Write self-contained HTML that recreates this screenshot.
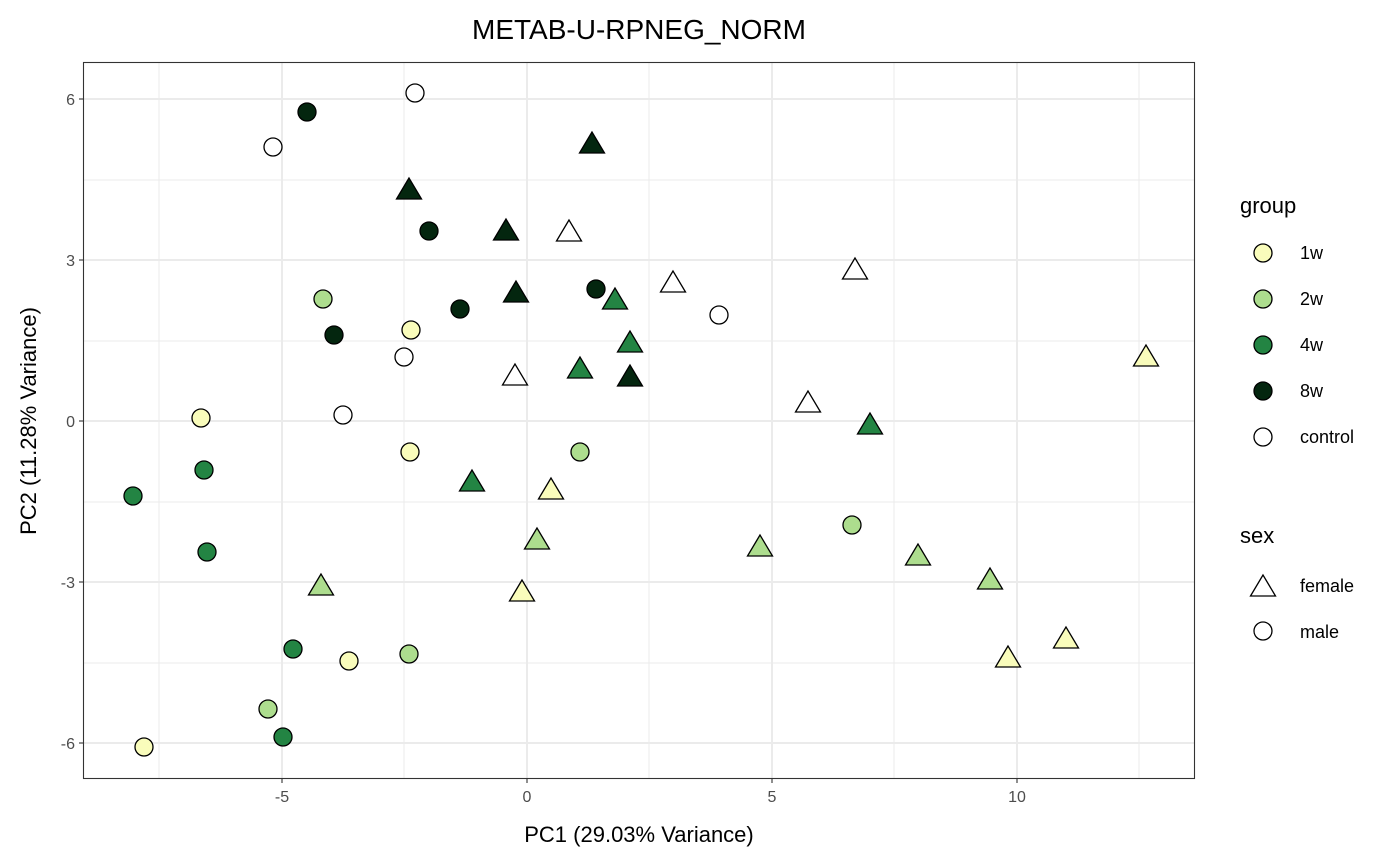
<!DOCTYPE html>
<html><head><meta charset="utf-8"><style>body{margin:0;background:#fff}svg{display:block;font-family:"Liberation Sans",Arial,sans-serif}</style></head><body>
<svg width="1400" height="865" viewBox="0 0 1400 865">
<defs>
<polygon id="t" points="0,-13 -12.5,8 12.5,8" stroke="#000" stroke-width="1.3"/>
</defs>
<rect x="83" y="62" width="1112" height="717" fill="#fff"/>
<g stroke="#ebebeb" stroke-width="1">
<line x1="83" x2="1195" y1="180" y2="180"/><line x1="83" x2="1195" y1="341" y2="341"/><line x1="83" x2="1195" y1="502" y2="502"/><line x1="83" x2="1195" y1="663" y2="663"/>
<line y1="62" y2="779" x1="159" x2="159"/><line y1="62" y2="779" x1="404" x2="404"/><line y1="62" y2="779" x1="649" x2="649"/><line y1="62" y2="779" x1="894" x2="894"/><line y1="62" y2="779" x1="1139" x2="1139"/>
</g>
<g stroke="#ebebeb" stroke-width="2">
<line x1="83" x2="1195" y1="99" y2="99"/><line x1="83" x2="1195" y1="260" y2="260"/><line x1="83" x2="1195" y1="421" y2="421"/><line x1="83" x2="1195" y1="582" y2="582"/><line x1="83" x2="1195" y1="743" y2="743"/>
<line y1="62" y2="779" x1="282" x2="282"/><line y1="62" y2="779" x1="527" x2="527"/><line y1="62" y2="779" x1="772" x2="772"/><line y1="62" y2="779" x1="1017" x2="1017"/>
</g>
<g stroke="#000" stroke-width="1.3">
<circle cx="415" cy="93" r="9" fill="#fff"/><circle cx="307" cy="112" r="9" fill="#04260f"/><circle cx="273" cy="147" r="9" fill="#fff"/><circle cx="429" cy="231" r="9" fill="#04260f"/><circle cx="323" cy="299" r="9" fill="#addd8e"/><circle cx="411" cy="330" r="9" fill="#f9fcbb"/><circle cx="334" cy="335" r="9" fill="#04260f"/><circle cx="460" cy="309" r="9" fill="#04260f"/><circle cx="404" cy="357" r="9" fill="#fff"/><circle cx="596" cy="289" r="9" fill="#04260f"/><circle cx="719" cy="315" r="9" fill="#fff"/><circle cx="343" cy="415" r="9" fill="#fff"/><circle cx="201" cy="418" r="9" fill="#f9fcbb"/><circle cx="204" cy="470" r="9" fill="#238443"/><circle cx="133" cy="496" r="9" fill="#238443"/><circle cx="410" cy="452" r="9" fill="#f9fcbb"/><circle cx="580" cy="452" r="9" fill="#addd8e"/><circle cx="207" cy="552" r="9" fill="#238443"/><circle cx="852" cy="525" r="9" fill="#addd8e"/><circle cx="293" cy="649" r="9" fill="#238443"/><circle cx="349" cy="661" r="9" fill="#f9fcbb"/><circle cx="409" cy="654" r="9" fill="#addd8e"/><circle cx="268" cy="709" r="9" fill="#addd8e"/><circle cx="283" cy="737" r="9" fill="#238443"/><circle cx="144" cy="747" r="9" fill="#f9fcbb"/>
</g>
<g>
<use href="#t" x="592" y="145" fill="#04260f"/><use href="#t" x="409" y="191" fill="#04260f"/><use href="#t" x="506" y="232" fill="#04260f"/><use href="#t" x="569" y="233" fill="#fff"/><use href="#t" x="855" y="271" fill="#fff"/><use href="#t" x="673" y="284" fill="#fff"/><use href="#t" x="516" y="294" fill="#04260f"/><use href="#t" x="615" y="301" fill="#238443"/><use href="#t" x="630" y="344" fill="#238443"/><use href="#t" x="580" y="370" fill="#238443"/><use href="#t" x="630" y="378" fill="#04260f"/><use href="#t" x="515" y="377" fill="#fff"/><use href="#t" x="1146" y="358" fill="#f9fcbb"/><use href="#t" x="808" y="404" fill="#fff"/><use href="#t" x="870" y="426" fill="#238443"/><use href="#t" x="472" y="483" fill="#238443"/><use href="#t" x="551" y="491" fill="#f9fcbb"/><use href="#t" x="537" y="541" fill="#addd8e"/><use href="#t" x="760" y="548" fill="#addd8e"/><use href="#t" x="918" y="557" fill="#addd8e"/><use href="#t" x="990" y="581" fill="#addd8e"/><use href="#t" x="321" y="587" fill="#addd8e"/><use href="#t" x="522" y="593" fill="#f9fcbb"/><use href="#t" x="1066" y="640" fill="#f9fcbb"/><use href="#t" x="1008" y="659" fill="#f9fcbb"/>
</g>
<rect x="83.5" y="62.5" width="1111" height="716" fill="none" stroke="#333" stroke-width="1.1"/>
<g stroke="#333" stroke-width="1.1">
<line x1="79" x2="83" y1="99" y2="99"/><line x1="79" x2="83" y1="260" y2="260"/><line x1="79" x2="83" y1="421" y2="421"/><line x1="79" x2="83" y1="582" y2="582"/><line x1="79" x2="83" y1="743" y2="743"/>
<line y1="779" y2="783" x1="282" x2="282"/><line y1="779" y2="783" x1="527" x2="527"/><line y1="779" y2="783" x1="772" x2="772"/><line y1="779" y2="783" x1="1017" x2="1017"/>
</g>
<g fill="#4d4d4d" font-size="16" text-anchor="end">
<text x="75" y="105">6</text><text x="75" y="266">3</text><text x="75" y="427">0</text><text x="75" y="588">-3</text><text x="75" y="749">-6</text>
</g>
<g fill="#4d4d4d" font-size="16" text-anchor="middle">
<text x="282" y="802">-5</text><text x="527" y="802">0</text><text x="772" y="802">5</text><text x="1017" y="802">10</text>
</g>
<text x="639" y="842" font-size="22" text-anchor="middle">PC1 (29.03% Variance)</text>
<text transform="translate(36,421) rotate(-90)" font-size="22" text-anchor="middle">PC2 (11.28% Variance)</text>
<text x="639" y="39" font-size="28" text-anchor="middle">METAB-U-RPNEG_NORM</text>
<text x="1240" y="213" font-size="22">group</text>
<g stroke="#000" stroke-width="1.3">
<circle cx="1263" cy="253" r="9" fill="#f9fcbb"/><circle cx="1263" cy="299" r="9" fill="#addd8e"/><circle cx="1263" cy="345" r="9" fill="#238443"/><circle cx="1263" cy="391" r="9" fill="#04260f"/><circle cx="1263" cy="437" r="9" fill="#fff"/>
<circle cx="1263" cy="631" r="9" fill="#fff"/>
</g>
<use href="#t" x="1263" y="588" fill="#fff"/>
<g font-size="18">
<text x="1300" y="259">1w</text><text x="1300" y="305">2w</text><text x="1300" y="351">4w</text><text x="1300" y="397">8w</text><text x="1300" y="443">control</text>
<text x="1300" y="592">female</text><text x="1300" y="638">male</text>
</g>
<text x="1240" y="543" font-size="22">sex</text>
</svg>
</body></html>
